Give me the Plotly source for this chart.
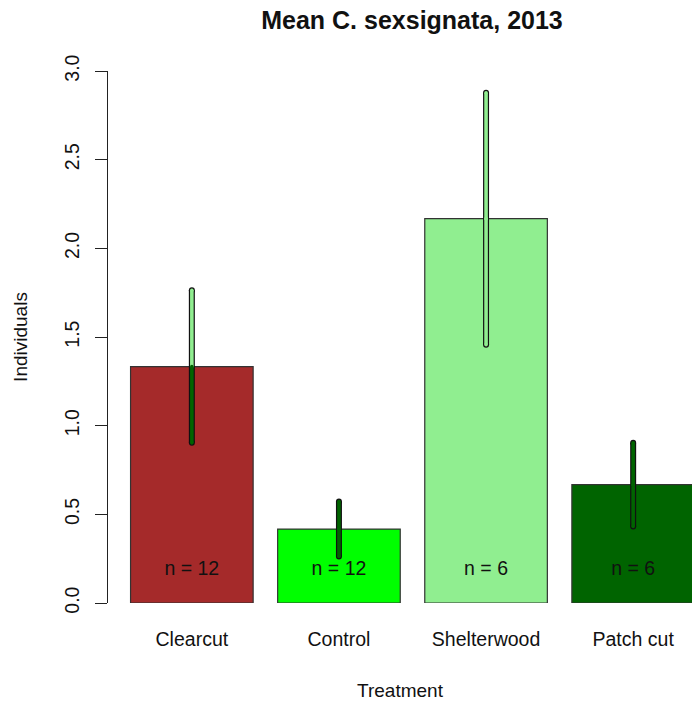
import plotly.graph_objects as go

categories = ["Clearcut", "Control", "Shelterwood", "Patch cut"]
means = [1.333, 0.417, 2.167, 0.667]
se = [0.43, 0.155, 0.71, 0.236]
n_values = [12, 12, 6, 6]
bar_colors = ["#A52A2A", "#00FF00", "#90EE90", "#006400"]
upper_colors = ["#90EE90", "#006400", "#90EE90", "#006400"]
lower_colors = ["#006400", "#006400", "#90EE90", "#006400"]
y_ticks = [0.0, 0.5, 1.0, 1.5, 2.0, 2.5, 3.0]

FONT = "Liberation Sans, Arial"

fig = go.Figure()
fig.add_trace(go.Bar(
    x=categories, y=means,
    marker=dict(color=bar_colors, line=dict(color="#333333", width=1.2)),
    width=0.8333, showlegend=False, hoverinfo="skip",
))

# error bars: black outline then coloured inner line, round ends via markers
for i, c in enumerate(categories):
    lo = means[i] - se[i]
    hi = means[i] + se[i]
    fig.add_trace(go.Scatter(x=[c, c], y=[lo, hi], mode="lines+markers",
                             line=dict(color="#111111", width=6),
                             marker=dict(color="#111111", size=6, symbol="circle"),
                             showlegend=False, hoverinfo="skip", cliponaxis=False))
    fig.add_trace(go.Scatter(x=[c, c], y=[means[i], hi], mode="lines+markers",
                             line=dict(color=upper_colors[i], width=3.6),
                             marker=dict(color=upper_colors[i], size=3.6, symbol="circle"),
                             showlegend=False, hoverinfo="skip", cliponaxis=False))
    fig.add_trace(go.Scatter(x=[c, c], y=[lo, means[i]], mode="lines+markers",
                             line=dict(color=lower_colors[i], width=3.6),
                             marker=dict(color=lower_colors[i], size=3.6, symbol="circle"),
                             showlegend=False, hoverinfo="skip", cliponaxis=False))

fig.add_trace(go.Scatter(
    x=categories, y=[0.185] * len(categories), mode="text",
    text=[f"n = {n}" for n in n_values],
    textfont=dict(family=FONT, size=19.5, color="#111111"),
    showlegend=False, hoverinfo="skip",
))

fig.update_layout(
    width=692, height=702,
    margin=dict(l=108, r=0, t=71, b=99),
    paper_bgcolor="white", plot_bgcolor="white",
    font=dict(family=FONT, size=19.5, color="#111111"),
    title=dict(text="<b>Mean C. sexsignata, 2013</b>", x=412 / 692, xref="container",
               xanchor="center", y=1 - 20 / 702, yref="container", yanchor="middle",
               font=dict(family=FONT, size=25, color="#111111")),
    xaxis=dict(range=[-0.57, 3.40], showline=False, ticks="", showgrid=False,
               zeroline=False, ticklabelstandoff=22, automargin=False,
               tickfont=dict(family=FONT, size=19.5, color="#111111"),
               title=dict(text="Treatment", standoff=35,
                          font=dict(family=FONT, size=19, color="#111111"))),
    yaxis=dict(range=[0, 3], tickvals=y_ticks, ticktext=[f"{v:.1f}" for v in y_ticks],
               showline=True, linecolor="#222222", linewidth=1.2,
               ticks="outside", ticklen=12, tickcolor="#222222", tickwidth=1.2,
               tickangle=-90, showgrid=False, zeroline=False,
               ticklabelstandoff=8, automargin=False,
               tickfont=dict(family=FONT, size=19.5, color="#111111"),
               title=dict(text="Individuals", standoff=28,
                          font=dict(family=FONT, size=19, color="#111111"))),
)

fig.write_html("out.html", config={"displayModeBar": False},
               post_script="document.body.style.margin='0';")
